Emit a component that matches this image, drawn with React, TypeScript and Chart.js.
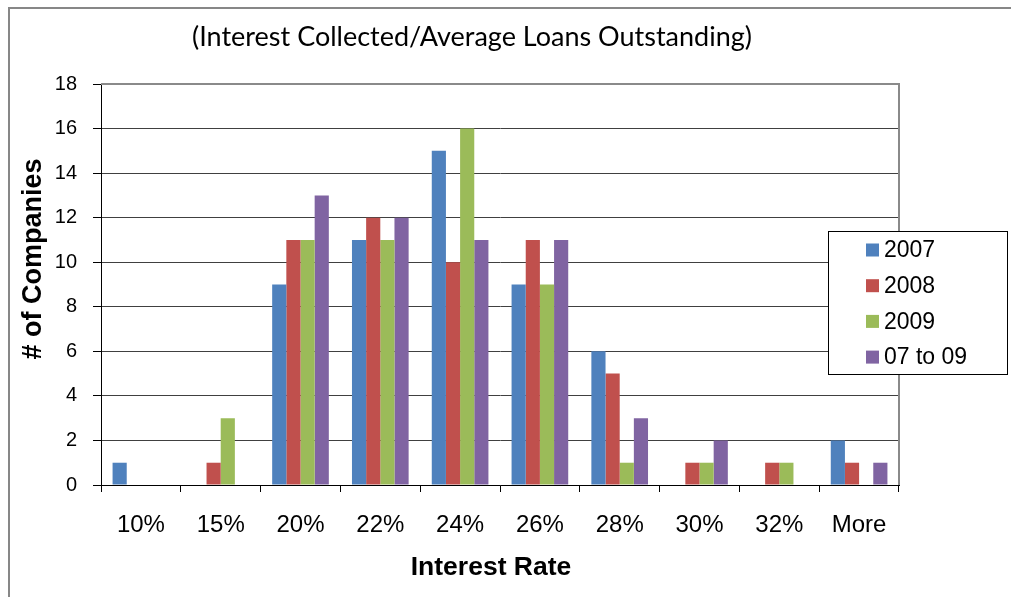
import React, { useEffect, useRef } from "react";
import { Chart, registerables } from "chart.js";

Chart.register(...registerables);

const categories = ["10%", "15%", "20%", "22%", "24%", "26%", "28%", "30%", "32%", "More"];
const seriesNames = ["2007", "2008", "2009", "07 to 09"];
const s2007 = [1, 0, 9, 11, 15, 9, 6, 0, 0, 2];
const s2008 = [0, 1, 11, 12, 10, 11, 5, 1, 1, 1];
const s2009 = [0, 3, 11, 11, 16, 9, 1, 1, 1, 0];
const s0709 = [0, 0, 13, 12, 11, 11, 3, 2, 0, 1];
const seriesColors = ["#4F81BD", "#C0504D", "#9BBB59", "#8064A2"];
const yTicks = [0, 2, 4, 6, 8, 10, 12, 14, 16, 18];
const chartTitle = "(Interest Collected/Average Loans Outstanding)";
const xTitle = "Interest Rate";
const yTitle = "# of Companies";

const W = 1011;
const H = 597;
const SANS = "Liberation Sans, Arial, sans-serif";

const decorPlugin = {
  id: "decor",
  beforeDraw(chart: any) {
    const ctx = chart.ctx;
    ctx.save();
    ctx.fillStyle = "#fff";
    ctx.fillRect(0, 0, W, H);
    ctx.restore();
  },
  afterDraw(chart: any) {
    const ctx = chart.ctx;
    const ca = chart.chartArea;
    ctx.save();
    // outer border
    ctx.strokeStyle = "#878787";
    ctx.lineWidth = 2;
    ctx.strokeRect(9, 8, W + 10, H + 10);
    // plot area top/right border
    ctx.strokeStyle = "#8a8a8a";
    ctx.lineWidth = 2;
    ctx.beginPath();
    ctx.moveTo(ca.left, ca.top);
    ctx.lineTo(ca.right, ca.top);
    ctx.lineTo(ca.right, ca.bottom);
    ctx.stroke();
    // title
    ctx.fillStyle = "#000";
    ctx.font = "27px Lato";
    ctx.textAlign = "center";
    ctx.textBaseline = "middle";
    ctx.fillText(chartTitle, 472, 37);
    // x title
    ctx.font = "bold 26.5px " + SANS;
    ctx.textBaseline = "alphabetic";
    ctx.fillText(xTitle, 491, 575);
    // y title
    ctx.save();
    ctx.translate(41, 259);
    ctx.rotate(-Math.PI / 2);
    ctx.font = "bold 27px " + SANS;
    ctx.fillText(yTitle, 0, 0);
    ctx.restore();
    // legend
    const lx = 828, ly = 231, lw = 179, lh = 143;
    ctx.fillStyle = "#fff";
    ctx.fillRect(lx, ly, lw, lh);
    ctx.strokeStyle = "#000";
    ctx.lineWidth = 1;
    ctx.strokeRect(lx + 0.5, ly + 0.5, lw, lh);
    ctx.font = "23px " + SANS;
    ctx.textAlign = "left";
    ctx.textBaseline = "middle";
    chart.data.datasets.forEach((ds: any, i: number) => {
      const cy = 250 + i * 35.7;
      ctx.fillStyle = ds.backgroundColor;
      ctx.fillRect(866, cy - 6.5, 13, 13);
      ctx.fillStyle = "#000";
      ctx.fillText(ds.label, 884, cy + 1);
    });
    ctx.restore();
  },
};

export default function App() {
  const ref = useRef<HTMLCanvasElement>(null);
  useEffect(() => {
    if (!ref.current) return;
    const seriesData = [s2007, s2008, s2009, s0709];
    const chart = new Chart(ref.current, {
      type: "bar",
      data: {
        labels: categories,
        datasets: seriesNames.map((n, i) => ({
          label: n,
          data: seriesData[i],
          backgroundColor: seriesColors[i],
          borderWidth: 0,
          barPercentage: 1,
          categoryPercentage: 0.71,
        })),
      },
      options: {
        responsive: false,
        animation: false,
        events: [],
        layout: { padding: { left: 0, right: W - 899, top: 84, bottom: 0 } },
        plugins: { legend: { display: false }, title: { display: false }, tooltip: { enabled: false } },
        scales: {
          x: {
            offset: true,
            afterFit: (s: any) => { s.height = H - 485; },
            grid: { display: true, drawOnChartArea: false, drawTicks: true, tickLength: 7, offset: true, color: "#000" },
            border: { color: "#000", width: 1 },
            ticks: { color: "#000", font: { family: SANS, size: 24 }, padding: 19, maxRotation: 0 },
          },
          y: {
            min: 0,
            max: 18,
            afterFit: (s: any) => { s.width = 101; },
            afterBuildTicks: (s: any) => { s.ticks = yTicks.map((v) => ({ value: v })); },
            grid: {
              drawTicks: true,
              tickLength: 8,
              color: (c: any) => (c.tick && c.tick.value === 18 ? "#8a8a8a" : "#404040"),
              tickColor: "#000",
            },
            border: { color: "#000", width: 1 },
            ticks: { color: "#000", font: { family: SANS, size: 20 }, padding: 16 },
          },
        },
      },
      plugins: [decorPlugin],
    });
    return () => chart.destroy();
  }, []);
  return (
    <div style={{ position: "absolute", left: 0, top: 0, width: W, height: H }}>
      <canvas ref={ref} width={W} height={H} style={{ width: W, height: H, display: "block" }} />
    </div>
  );
}
